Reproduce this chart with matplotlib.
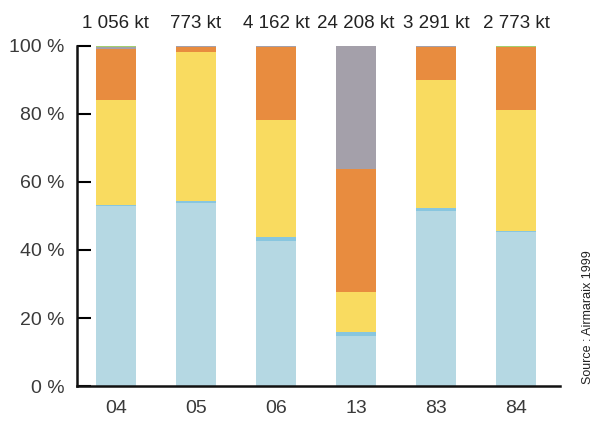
import numpy as np
import matplotlib
matplotlib.use("Agg")
import matplotlib.pyplot as plt

plt.rcParams['font.family'] = ['Liberation Sans', 'DejaVu Sans']

# departments and total emissions
depts = ["04", "05", "06", "13", "83", "84"]
totals = ["1 056 kt", "773 kt", "4 162 kt", "24 208 kt", "3 291 kt", "2 773 kt"]

# share of each sector (%), stacked bottom to top
light_blue = [53.0, 53.8, 42.6, 14.7, 51.5, 45.3]
mid_blue = [0.3, 0.6, 1.2, 1.2, 0.9, 0.3]
yellow = [30.8, 43.8, 34.4, 11.7, 37.6, 35.6]
orange = [15.1, 1.5, 21.6, 36.2, 9.7, 18.5]
gray = [0.4, 0.3, 0.2, 36.2, 0.3, 0.0]
green = [0.4, 0.0, 0.0, 0.0, 0.0, 0.3]

series = [light_blue, mid_blue, yellow, orange, gray, green]
colors = ["#b5d8e3", "#88c6df", "#f9db60", "#e88c3f", "#a4a0aa", "#a3cf6e"]

fig = plt.figure(figsize=(5.96, 4.21), dpi=100)
ax = fig.add_axes([0.129, 0.083, 0.811, 0.808])

x = np.arange(len(depts))
bottom = np.zeros(len(depts))
for vals, c in zip(series, colors):
    ax.bar(x, vals, width=0.5, bottom=bottom, color=c, linewidth=0)
    bottom += np.array(vals)

ax.set_ylim(0, 100)
ax.set_xlim(-0.4875, 5.55)
ax.set_yticks([0, 20, 40, 60, 80, 100])
ax.set_yticklabels(["%d %%" % v for v in [0, 20, 40, 60, 80, 100]])
ax.set_xticks(x)
ax.set_xticklabels(depts)

for side in ["top", "right"]:
    ax.spines[side].set_visible(False)
for side in ["left", "bottom"]:
    ax.spines[side].set_linewidth(1.8)
    ax.spines[side].set_color("#111111")

ax.tick_params(axis="y", direction="in", length=10, width=1.5, pad=9,
               labelsize=14, labelcolor="#3a3a3a")
ax.tick_params(axis="x", length=0, pad=10, labelsize=14, labelcolor="#3a3a3a")

for xi, t in zip(x, totals):
    ax.text(xi, 104, t, ha="center", va="bottom", fontsize=13.5, color="#222222",
            clip_on=False)

fig.text(0.987, 0.087, "Source : Airmaraix 1999", rotation=90, ha="center",
         va="bottom", fontsize=9, color="#222222")

fig.savefig("out.png", dpi=100)
